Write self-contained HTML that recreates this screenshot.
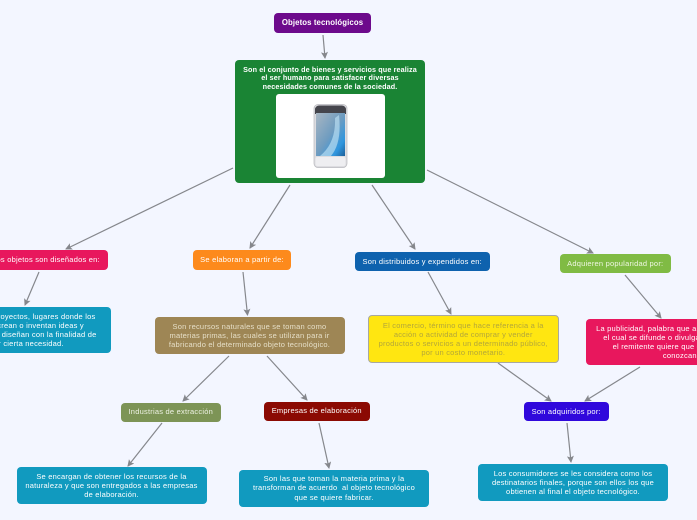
<!DOCTYPE html>
<html><head><meta charset="utf-8">
<style>
html,body{margin:0;padding:0;width:697px;height:520px;overflow:hidden}
body{background:#f3f6ff;position:relative;font-family:"Liberation Sans",sans-serif}
#w{position:absolute;left:0;top:0;width:697px;height:520px;overflow:hidden;filter:blur(.25px)}
.n{position:absolute;box-sizing:border-box;border-radius:4px;overflow:hidden;display:flex;align-items:center;justify-content:center;text-align:center;white-space:nowrap;font-size:7.5px;line-height:9.1px;color:#fff;letter-spacing:.22px}
svg{position:absolute;left:0;top:0}
</style></head><body><div id="w">
<svg width="697" height="520" viewBox="0 0 697 520">
<defs><marker id="a" markerUnits="userSpaceOnUse" markerWidth="8" markerHeight="8" refX="6" refY="3.5" orient="auto"><path d="M0 0L7 3.5L0 7L1.5 3.5Z" fill="#85878c"/></marker></defs>
<g stroke="#85878c" stroke-width="1.2" fill="none">
<line x1="323" y1="35" x2="325" y2="58" marker-end="url(#a)"/>
<line x1="233" y1="168" x2="66" y2="249" marker-end="url(#a)"/>
<line x1="290" y1="185" x2="250" y2="248" marker-end="url(#a)"/>
<line x1="372" y1="185" x2="415" y2="249" marker-end="url(#a)"/>
<line x1="427" y1="170" x2="593" y2="253" marker-end="url(#a)"/>
<line x1="39" y1="272" x2="25" y2="305" marker-end="url(#a)"/>
<line x1="243" y1="272" x2="247.5" y2="315" marker-end="url(#a)"/>
<line x1="229" y1="356" x2="183" y2="401" marker-end="url(#a)"/>
<line x1="267" y1="356" x2="307" y2="400" marker-end="url(#a)"/>
<line x1="319" y1="423" x2="329" y2="468" marker-end="url(#a)"/>
<line x1="162" y1="423" x2="128" y2="466" marker-end="url(#a)"/>
<line x1="428" y1="272" x2="451" y2="314" marker-end="url(#a)"/>
<line x1="625" y1="275" x2="661" y2="318" marker-end="url(#a)"/>
<line x1="498" y1="363" x2="551" y2="401" marker-end="url(#a)"/>
<line x1="640" y1="367" x2="585" y2="401" marker-end="url(#a)"/>
<line x1="567" y1="423" x2="571" y2="462" marker-end="url(#a)"/>
</g>
</svg>

<div class="n" style="left:274px;top:13px;width:97px;height:20px;background:#6d0a8c;font-weight:bold;font-size:7.8px;letter-spacing:.1px">Objetos tecnológicos</div>

<div class="n" style="left:235px;top:60px;width:190px;height:123px;background:#1a8434;font-weight:bold;align-items:flex-start;padding-top:5.5px;line-height:8.8px;font-size:7.2px;letter-spacing:.13px">
<span>Son el conjunto de bienes y servicios que realiza<br>el ser humano para satisfacer diversas<br>necesidades comunes de la sociedad.</span></div>
<div style="position:absolute;left:276px;top:94px;width:109px;height:84px;background:#fff;border-radius:3px"></div>
<svg width="697" height="520" viewBox="0 0 697 520">
<defs><linearGradient id="s" x1="0" y1="0" x2="1" y2="1"><stop offset="0" stop-color="#a9b6c2"/><stop offset=".5" stop-color="#6f9cc0"/><stop offset=".8" stop-color="#2f96de"/><stop offset="1" stop-color="#1c5f98"/></linearGradient></defs>
<rect x="314" y="104.500" width="33" height="63" rx="4" fill="#dcdce0" stroke="#b8b8bd" stroke-width=".7"/>
<path d="M315 110a4 4 0 0 1 4-4.500h23a4 4 0 0 1 4 4.500v4h-31z" fill="#45454c"/>
<rect x="316" y="113" width="29" height="43" fill="url(#s)"/>
<path d="M320 156Q336 143 335 118L339 115Q342 143 331 156Z" fill="#bfe2f5" opacity=".65"/>
<rect x="315.500" y="157" width="30" height="9" rx="2" fill="#eeeef1"/>
</svg>

<div class="n" style="left:-40px;top:250px;width:148px;height:20px;background:#e8175d;padding-left:24px">Los objetos son diseñados en:</div>
<div class="n" style="left:-80px;top:307px;width:190.500px;height:46px;background:#119abf">
<span>En laboratorios, proyectos, lugares donde los<br>los científicos crean o inventan ideas y<br>ingenieros y otros, diseñan con la finalidad de<br>satisfacer cierta necesidad.</span></div>

<div class="n" style="left:193px;top:250px;width:98px;height:20px;background:#fd8a1c">Se elaboran a partir de:</div>
<div class="n" style="left:154.500px;top:317px;width:190px;height:37px;background:#9e8655;color:#e6dfc8">
<span>Son recursos naturales que se toman como<br>materias primas, las cuales se utilizan para ir<br>fabricando el determinado objeto tecnológico.</span></div>

<div class="n" style="left:355px;top:251.500px;width:134.500px;height:19.500px;background:#0e62ae">Son distribuidos y expendidos en:</div>
<div class="n" style="left:367.500px;top:315px;width:191.500px;height:48px;background:#ffe611;border:1px solid #a8a8a0;color:#b3a63a">
<span>El comercio, término que hace referencia a la<br>acción o actividad de comprar y vender<br>productos o servicios a un determinado público,<br>por un costo monetario.</span></div>

<div class="n" style="left:559.500px;top:254px;width:111.500px;height:19px;background:#80bb44;color:#eef6e2">Adquieren popularidad por:</div>
<div class="n" style="left:586px;top:319px;width:190px;height:46px;background:#e8175d">
<span>La publicidad, palabra que anuncia algo y por el<br>el cual se difunde o divulga un mensaje que<br>el remitente quiere que otras personas<br>conozcan.</span></div>

<div class="n" style="left:121px;top:402.500px;width:99.500px;height:19px;background:#7d9456;color:#eef2e4">Industrias de extracción</div>
<div class="n" style="left:264px;top:401.500px;width:105.500px;height:19px;background:#8b0a03">Empresas de elaboración</div>
<div class="n" style="left:524px;top:402px;width:84.500px;height:19px;background:#3008dc">Son adquiridos por:</div>

<div class="n" style="left:16.500px;top:467px;width:190px;height:37px;background:#119abf">
<span>Se encargan de obtener los recursos de la<br>naturaleza y que son entregados a las empresas<br>de elaboración.</span></div>
<div class="n" style="left:239px;top:469.500px;width:190px;height:37px;background:#119abf">
<span>Son las que toman la materia prima y la<br>transforman de acuerdo&nbsp; al objeto tecnológico<br>que se quiere fabricar.</span></div>
<div class="n" style="left:478px;top:464px;width:190px;height:37px;background:#119abf">
<span>Los consumidores se les considera como los<br>destinatarios finales, porque son ellos los que<br>obtienen al final el objeto tecnológico.</span></div>
</div></body></html>
